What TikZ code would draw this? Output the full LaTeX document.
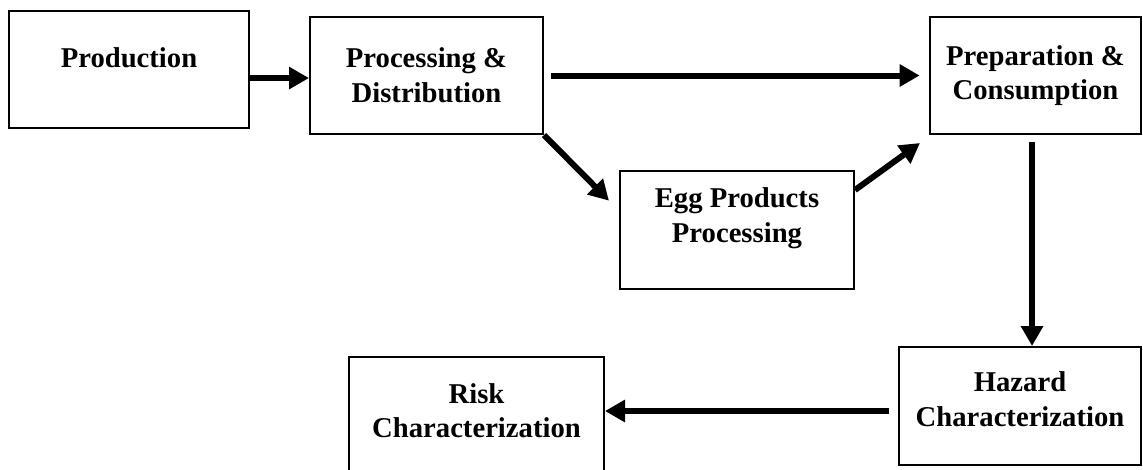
\documentclass[tikz,border=0pt]{standalone}
\usepackage{fontspec}
\setmainfont{Liberation Serif}
\usetikzlibrary{arrows.meta,positioning}

\begin{document}
\begin{tikzpicture}[x=0.75pt,y=-0.75pt,
  font={\fontsize{21.5}{26}\selectfont\bfseries},
  stagebox/.style={draw,line width=1.5pt,align=center,inner sep=0pt},
  flow/.style={line width=4.5pt,-{Triangle[length=15pt,width=16pt]}}]

\useasboundingbox (0,0) rectangle (1143,469);
\clip (0,0) rectangle (1143,469);

\node[stagebox,minimum width=180pt,minimum height=87.75pt,text depth=18pt] (prod) at (129,69.5) {Production};
\node[stagebox,minimum width=174.75pt,minimum height=87.75pt] (procdist) at (426.5,75.5) {Processing \&\\Distribution};
\node[stagebox,minimum width=158.25pt,minimum height=87.75pt] (prepcons) at (1035.5,75.5) {Preparation \&\\Consumption};
\node[stagebox,minimum width=175.5pt,minimum height=88.5pt,text depth=22pt] (eggproc) at (737,230) {Egg Products\\Processing};
\node[stagebox,minimum width=181.5pt,minimum height=88.5pt,text depth=10pt] (hazard) at (1020,406) {Hazard\\Characterization};
\node[stagebox,minimum width=191.25pt,minimum height=88.5pt,text depth=8pt] (risk) at (476.5,416) {Risk\\Characterization};

\draw[flow] ([yshift=-6.4pt]prod.east) -- ([yshift=-6.4pt]prod.east -| procdist.west);
\draw[flow] ([xshift=5pt]procdist.east) -- ([xshift=-7pt]prepcons.west);
\draw[flow] (procdist.south east) -- ([shift={(-7.5pt,-23pt)}]eggproc.north west);
\draw[flow] ([yshift=-15pt]eggproc.north east) -- ([shift={(-6.75pt,-6pt)}]prepcons.south west);
\coordinate (downstart) at ([shift={(-2.6pt,-5.25pt)}]prepcons.south);
\draw[flow] (downstart) -- (downstart |- hazard.north);
\coordinate (leftstart) at ([shift={(-6.75pt,-3.75pt)}]hazard.west);
\draw[flow] (leftstart) -- (leftstart -| risk.east);

\end{tikzpicture}
\end{document}
